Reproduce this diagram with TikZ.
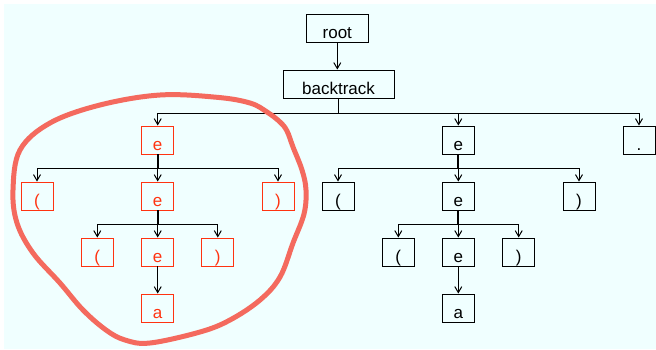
\documentclass[tikz,border=0pt]{standalone}
\usepackage{fontspec}
\setmainfont{Liberation Sans}
\usetikzlibrary{arrows.meta}
\definecolor{bgc}{RGB}{240,255,255}
\definecolor{hl}{RGB}{255,51,17}
\definecolor{blobc}{RGB}{244,106,94}
\begin{document}
\begin{tikzpicture}[x=1pt,y=-1pt,
 box/.style={draw=black, line width=0.9pt, inner sep=0pt, minimum width=32pt, minimum height=28pt, text height=20.6pt, text depth=0pt, font=\fontsize{17}{20}\selectfont},
 rbox/.style={box, draw=hl, text=hl},
 conn/.style={draw=black, line width=1pt, -{Straight Barb[length=6pt,width=7pt]}},
 stemline/.style={draw=black, line width=1.7pt},
 loopline/.style={draw=blobc, line width=5pt, line join=round}
]
\useasboundingbox (0,0) rectangle (656,349);
\fill[bgc] (4,4) rectangle (656,349);

% nodes
\node[box, minimum width=61.3pt] (root) at (337.3,28) {root};
\node[box, minimum width=111pt] (bt) at (338.5,84) {backtrack};

\node[rbox] (e1) at (157.7,140) {e};
\node[box] (e2) at (458.3,140) {e};
\node[box] (dot) at (639,140) {.};

\node[rbox] (l1) at (37,196) {(};
\node[rbox] (m1) at (157.7,196) {e};
\node[rbox] (r1) at (278,196) {)};
\node[box] (l2) at (338,196) {(};
\node[box] (m2) at (458.3,196) {e};
\node[box] (r2) at (579,196) {)};

\node[rbox] (ll1) at (97.3,252) {(};
\node[rbox] (mm1) at (157.7,252) {e};
\node[rbox] (rr1) at (217.8,252) {)};
\node[box] (ll2) at (398.3,252) {(};
\node[box] (mm2) at (458.3,252) {e};
\node[box] (rr2) at (518.7,252) {)};

\node[rbox] (a1) at (157.7,308) {a};
\node[box] (a2) at (458.3,308) {a};

% connectors
\draw[conn] (root.south) -- (root.south |- bt.north);
\foreach \c in {e1,e2,dot}
  \draw[conn] (bt.south) -- ++(0,14.7) -| (\c.north);

\foreach \p/\l/\m/\r in {e1/l1/m1/r1, e2/l2/m2/r2, m1/ll1/mm1/rr1, m2/ll2/mm2/rr2} {
  \draw[stemline] (\p.south) -- ++(0,14.3);
  \foreach \c in {\l,\m,\r}
    \draw[conn] (\p.south) -- ++(0,14.3) -| (\c.north);
}
\draw[conn] (mm1.south) -- (a1.north);
\draw[conn] (mm2.south) -- (a2.north);

% highlight loop
\draw[loopline] plot[smooth cycle, tension=0.6] coordinates {
 (160,95) (217,97.3) (250,103) (267,112) (280,122) (287,131) (293,147)
 (302,170) (306,190) (304,214) (293,243) (280,277) (260,300) (230,320)
 (200,332) (150,343) (125,340) (106,330) (83,310) (60,283) (33,253)
 (17,223) (13,190) (20,150) (50,123) (100,105)};
\end{tikzpicture}
\end{document}
